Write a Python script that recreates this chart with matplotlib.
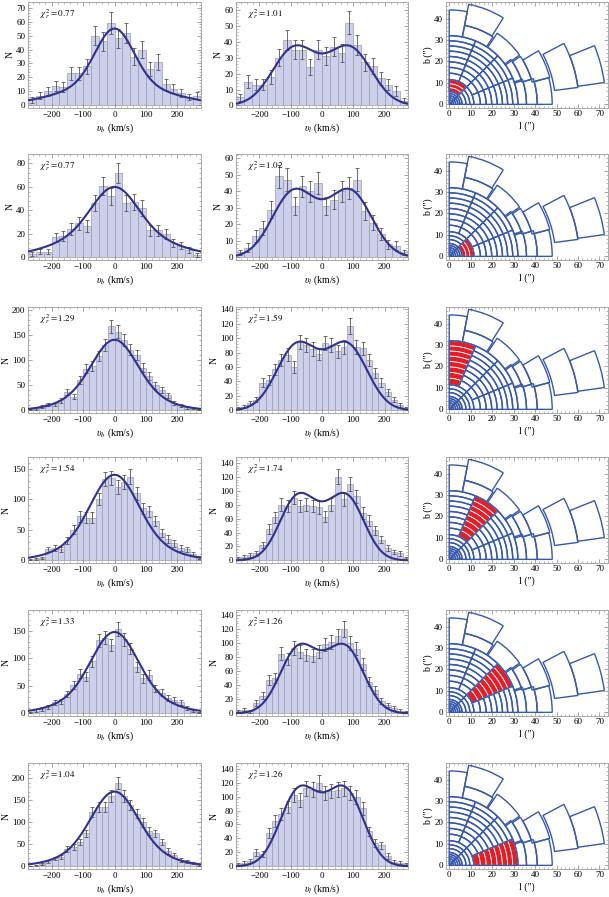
import numpy as np
import matplotlib
matplotlib.use("Agg")
import matplotlib.pyplot as plt
from matplotlib.patches import Wedge
from matplotlib.ticker import MultipleLocator, AutoMinorLocator

plt.rcParams['font.family'] = ['Liberation Serif', 'DejaVu Serif']
plt.rcParams['mathtext.fontset'] = 'stix'

# ---- histogram data (counts per velocity bin), one list per row ----
bin_lo = [-275, -275, -280, -280, -280, -280]
bin_w = [25, 25, 20, 20, 20, 20]

vb_counts = [
    [4, 7, 10, 14, 13, 23, 23, 28, 50, 46, 59, 48, 52, 35, 40, 26, 31, 15, 12, 9, 6, 7],
    [3, 5, 5, 17, 18, 24, 29, 27, 46, 61, 52, 72, 46, 47, 42, 23, 23, 20, 12, 10, 6, 2],
    [2, 3, 8, 12, 12, 20, 36, 27, 60, 83, 88, 108, 130, 167, 156, 140, 120, 110, 85, 68,
     50, 40, 30, 14, 10, 6, 5, 2],
    [1, 3, 4, 18, 20, 18, 32, 50, 72, 70, 70, 100, 133, 135, 120, 128, 137, 110, 85, 80,
     65, 45, 35, 28, 20, 18, 10, 5],
    [2, 5, 8, 12, 20, 22, 35, 52, 72, 67, 95, 133, 138, 125, 153, 135, 118, 85, 64, 70,
     45, 38, 28, 25, 20, 10, 4, 2],
    [1, 2, 5, 12, 18, 22, 40, 45, 55, 75, 123, 135, 135, 160, 190, 160, 140, 120, 100, 80,
     75, 55, 35, 25, 15, 12, 8, 3],
]
vl_counts = [
    [5, 15, 13, 13, 18, 30, 41, 35, 35, 24, 35, 31, 37, 33, 52, 38, 27, 25, 17, 13, 9, 3],
    [3, 6, 13, 18, 29, 49, 47, 31, 43, 40, 45, 31, 35, 40, 42, 47, 28, 21, 14, 8, 7, 3],
    [3, 5, 10, 15, 38, 42, 57, 70, 77, 60, 94, 90, 85, 78, 93, 90, 82, 88, 117, 88,
     86, 70, 52, 38, 25, 15, 8, 3],
    [3, 5, 8, 10, 22, 45, 62, 80, 78, 90, 78, 80, 78, 76, 63, 80, 120, 88, 110, 92,
     68, 57, 43, 30, 18, 12, 10, 3],
    [3, 5, 3, 15, 25, 48, 50, 85, 77, 93, 88, 83, 82, 88, 98, 102, 110, 120, 100, 92,
     70, 45, 33, 18, 12, 8, 4, 2],
    [3, 5, 8, 20, 18, 48, 65, 75, 85, 102, 95, 112, 110, 120, 105, 108, 110, 112, 105, 100,
     83, 50, 33, 30, 15, 7, 5, 3],
]

# fitted model: sum of gaussians (amplitude, mean, sigma)
vb_fit = [
    [(39, 0, 60), (16, 0, 160)],
    [(36, 0, 70), (24, 0, 155)],
    [(95, 0, 68), (45, 0, 118)],
    [(100, 0, 72), (40, 0, 130)],
    [(105, 0, 70), (43, 0, 130)],
    [(120, 0, 70), (50, 0, 125)],
]
vl_fit = [
    [(36, -88, 70), (36, 88, 70)],
    [(39, -92, 68), (39, 92, 68), (4, 0, 60)],
    [(90, -80, 65), (90, 80, 65)],
    [(74, -85, 55), (74, 85, 55), (40, 0, 70)],
    [(80, -80, 58), (80, 80, 58), (28, 0, 70)],
    [(92, -80, 58), (92, 80, 58), (35, 0, 70)],
]

vb_chi = ["0.77", "0.77", "1.29", "1.54", "1.33", "1.04"]
vl_chi = ["1.01", "1.02", "1.59", "1.74", "1.26", "1.26"]

vb_ystep = [10, 20, 50, 50, 50, 50]
vb_ymax = [74, 88, 205, 169, 188, 235]
vl_ystep = [10, 10, 20, 20, 20, 20]
vl_ymax = [65, 62.6, 143, 148.5, 147, 148]

# ---- map of spatial bins: (r_in, r_out, theta1, theta2) ----
inner_r = [0, 1, 2, 3, 4, 5, 6]
mid_r = [6, 7.8, 9.6, 11.5]
outer_r = [11.5, 14.5, 17.2, 19.8, 22.3, 24.8, 27.2, 29.6, 32]
sectors2 = [(0, 45), (45, 90)]
sectors4 = [(0, 22.5), (22.5, 45), (45, 67.5), (67.5, 90)]
outer_cells = [
    (32, 36, 0, 19), (36, 41, 0, 17), (41, 48, 0, 15),
    (32, 35.5, 18, 36), (35.5, 40, 17, 34), (40, 48.5, 15, 31),
    (32, 40, 35, 56),
    (32, 37.5, 57, 79), (37.5, 47.5, 58, 79),
    (32, 44, 79, 90),
    (49.5, 60.5, 7.5, 28), (60.5, 73, 8, 22),
]
# highlighted region for each row: (ring set, sector index)
red_spec = [("mid", 1), ("mid", 0), ("outer", 3), ("outer", 2), ("outer", 1), ("outer", 0)]

BAR_FC = '#cdd0ec'
BAR_EC = '#9c9ca8'
ERR_C = '#555555'
FIT_C = '#2e3192'
MAP_C = '#3759ad'
RED_C = '#e41e26'
FRAME_C = '#a8a8a8'

W, H = 609, 897
fig = plt.figure(figsize=(W / 100, H / 100), dpi=100)

row_tops = [2, 154, 307, 457, 610, 763]
row_h = 106
col_left = [28, 236, 446]
col_w = [173, 172, 162]


def model(v, comps):
    y = np.zeros_like(v)
    for a, m, s in comps:
        y += a * np.exp(-(v - m) ** 2 / (2 * s ** 2))
    return y


def style_frame(ax):
    for sp in ax.spines.values():
        sp.set_color(FRAME_C)
        sp.set_linewidth(0.7)
    ax.tick_params(which='both', direction='in', top=True, right=True,
                   color='#808080', labelsize=6.5, pad=2)
    ax.tick_params(which='major', length=3, width=0.5)
    ax.tick_params(which='minor', length=1.5, width=0.4)


def make_axes(col, row):
    top = row_tops[row]
    return fig.add_axes([col_left[col] / W, 1 - (top + row_h) / H,
                         col_w[col] / W, row_h / H])


def hist_panel(ax, counts, lo, w, comps, chi, ystep, ymax, sub):
    counts = np.array(counts, dtype=float)
    centers = lo + w * (np.arange(len(counts)) + 0.5)
    ax.bar(centers, counts, width=w, color=BAR_FC, edgecolor=BAR_EC, linewidth=0.5, zorder=1)
    ax.errorbar(centers, counts, yerr=np.sqrt(counts), fmt='none', ecolor=ERR_C,
                elinewidth=0.6, capsize=1.5, capthick=0.6, zorder=2)
    vv = np.linspace(-290, 290, 400)
    ax.plot(vv, model(vv, comps), color=FIT_C, lw=1.5, zorder=3)
    ax.set_xlim(-275, 275)
    ax.set_ylim(-0.025 * ymax, ymax)
    ax.xaxis.set_major_locator(MultipleLocator(100))
    ax.xaxis.set_minor_locator(AutoMinorLocator(5))
    ax.yaxis.set_major_locator(MultipleLocator(ystep))
    ax.yaxis.set_minor_locator(AutoMinorLocator(5))
    style_frame(ax)
    ax.set_ylabel('N', fontsize=7, labelpad=1)
    ax.set_xlabel(r'$\upsilon_%s$ (km/s)' % sub, fontsize=7, labelpad=2)
    ax.text(0.07, 0.86, r'$\chi_r^2 = %s$' % chi, transform=ax.transAxes, fontsize=6.5)


def map_panel(ax, spec):
    cells = []
    for i in range(len(inner_r) - 1):
        for t1, t2 in sectors2:
            cells.append((inner_r[i], inner_r[i + 1], t1, t2))
    for i in range(len(mid_r) - 1):
        for t1, t2 in sectors2:
            cells.append((mid_r[i], mid_r[i + 1], t1, t2))
    for i in range(len(outer_r) - 1):
        for t1, t2 in sectors4:
            cells.append((outer_r[i], outer_r[i + 1], t1, t2))
    cells += outer_cells
    for r1, r2, t1, t2 in cells:
        wd = None if r1 == 0 else r2 - r1
        ax.add_patch(Wedge((0, 0), r2, t1, t2, width=wd, fill=False,
                           edgecolor=MAP_C, lw=1.0, zorder=2))
    ring, k = spec
    radii = mid_r if ring == "mid" else outer_r
    t1, t2 = (sectors2 if ring == "mid" else sectors4)[k]
    for i in range(len(radii) - 1):
        ax.add_patch(Wedge((0, 0), radii[i + 1], t1, t2, width=radii[i + 1] - radii[i],
                           facecolor=RED_C, edgecolor='white', lw=0.6, zorder=3))
    ax.add_patch(Wedge((0, 0), radii[-1], t1, t2, width=radii[-1] - radii[0],
                       fill=False, edgecolor=MAP_C, lw=1.0, zorder=4))
    ax.set_xlim(-1.5, 74)
    ax.set_ylim(-1.5, 47.5)
    ax.set_aspect('equal', adjustable='box')
    ax.xaxis.set_major_locator(MultipleLocator(10))
    ax.xaxis.set_minor_locator(AutoMinorLocator(5))
    ax.yaxis.set_major_locator(MultipleLocator(10))
    ax.yaxis.set_minor_locator(AutoMinorLocator(5))
    style_frame(ax)
    ax.set_xlabel('l (\u2033)', fontsize=7, labelpad=2)
    ax.set_ylabel('b (\u2033)', fontsize=7, labelpad=1)


for r in range(6):
    ax = make_axes(0, r)
    hist_panel(ax, vb_counts[r], bin_lo[r], bin_w[r], vb_fit[r], vb_chi[r],
               vb_ystep[r], vb_ymax[r], 'b')
    ax = make_axes(1, r)
    hist_panel(ax, vl_counts[r], bin_lo[r], bin_w[r], vl_fit[r], vl_chi[r],
               vl_ystep[r], vl_ymax[r], 'l')
    ax = make_axes(2, r)
    map_panel(ax, red_spec[r])

fig.savefig('out.png', dpi=100)
